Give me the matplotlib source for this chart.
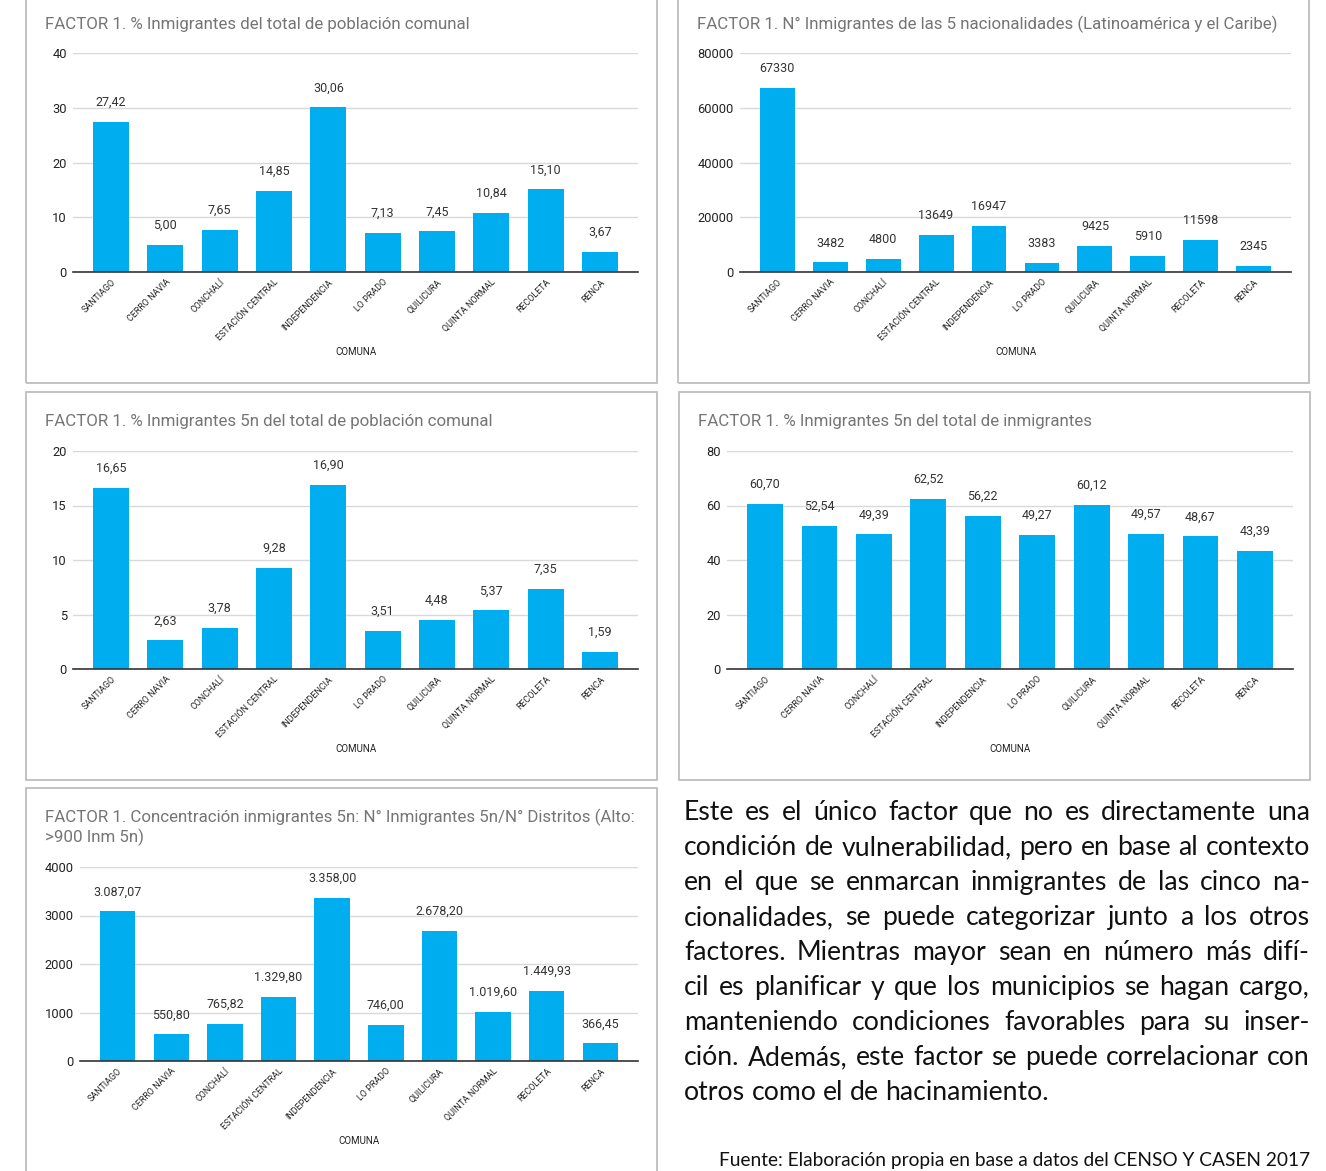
import numpy as np
import matplotlib.pyplot as plt
from matplotlib.patches import Rectangle

W, H = 1326, 1171
BLUE = '#00AEEF'

comunas = ['SANTIAGO', 'CERRO NAVIA', 'CONCHALÍ', 'ESTACIÓN CENTRAL', 'INDEPENDENCIA',
           'LO PRADO', 'QUILICURA', 'QUINTA NORMAL', 'RECOLETA', 'RENCA']

pct_inmigrantes = [27.42, 5.00, 7.65, 14.85, 30.06, 7.13, 7.45, 10.84, 15.10, 3.67]
n_inmigrantes_5n = [67330, 3482, 4800, 13649, 16947, 3383, 9425, 5910, 11598, 2345]
pct_5n_poblacion = [16.65, 2.63, 3.78, 9.28, 16.90, 3.51, 4.48, 5.37, 7.35, 1.59]
pct_5n_inmigrantes = [60.70, 52.54, 49.39, 62.52, 56.22, 49.27, 60.12, 49.57, 48.67, 43.39]
concentracion_5n = [3087.07, 550.80, 765.82, 1329.80, 3358.00, 746.00, 2678.20, 1019.60, 1449.93, 366.45]

texto = [
    "Este es el único factor que no es directamente una",
    "condición de vulnerabilidad, pero en base al contexto",
    "en el que se enmarcan inmigrantes de las cinco na-",
    "cionalidades, se puede categorizar junto a los otros",
    "factores. Mientras mayor sean en número más difí-",
    "cil es planificar y que los municipios se hagan cargo,",
    "manteniendo condiciones favorables para su inser-",
    "ción. Además, este factor se puede correlacionar con",
    "otros como el de hacinamiento.",
]
fuente = "Fuente: Elaboración propia en base a datos del CENSO Y CASEN 2017"

plt.rcParams['font.family'] = ['Roboto', 'DejaVu Sans']
TXT_FONT = ['Lato', 'DejaVu Sans']


def fx(x):
    return x / W


def fy(y):
    return 1 - y / H


def fmt_dec(v):
    return f"{v:.2f}".replace('.', ',')


def fmt_int(v):
    return f"{v:.0f}"


def fmt_miles(v):
    return f"{v:,.2f}".replace(',', 'X').replace('.', ',').replace('X', '.')


fig = plt.figure(figsize=(W / 100, H / 100), dpi=100)


def panel(box, axbox, title, values, ymax, ystep, fmt):
    # box / axbox: left, top, right, bottom in pixels
    bl, bt, br, bb = box
    fig.patches.append(Rectangle((fx(bl), fy(bb)), (br - bl) / W, (bb - bt) / H,
                                 transform=fig.transFigure, fill=False,
                                 edgecolor='#BDBDBD', lw=1.3))
    l, t, r, b = axbox
    ax = fig.add_axes([fx(l), fy(b), (r - l) / W, (b - t) / H])
    x = np.arange(len(values))
    ax.bar(x, values, width=0.66, color=BLUE, zorder=2)
    ax.set_xlim(-0.7, len(values) - 0.3)
    ax.set_ylim(0, ymax)
    ax.set_yticks(np.arange(0, ymax + ystep / 2, ystep))
    ax.yaxis.grid(True, color='#D9D9D9', lw=1)
    ax.set_axisbelow(True)
    for s in ['top', 'right', 'left']:
        ax.spines[s].set_visible(False)
    ax.spines['bottom'].set_color('#333333')
    ax.spines['bottom'].set_linewidth(1.2)
    ax.spines['bottom'].set_zorder(3)
    ax.tick_params(axis='both', length=0)
    ax.tick_params(axis='y', labelsize=9.3, labelcolor='#222222', pad=4.5)
    ax.set_xticks(x)
    ax.set_xticklabels(comunas, rotation=45, ha='right', rotation_mode='anchor',
                       fontsize=6.4, color='#222222')
    ax.tick_params(axis='x', pad=4)
    for i, v in enumerate(values):
        ax.annotate(fmt(v), (i, v), xytext=(0, 14), textcoords='offset points',
                    ha='center', va='center', fontsize=9, color='#333333')
    fig.text(fx((l + r) / 2), fy(b + 80), 'COMUNA', ha='center', va='center',
             fontsize=7, color='#222222')
    lines = title.split('\n')
    for k, ln in enumerate(lines):
        yt = (bt + 29 if bt > 0 else 24) + k * 20
        fig.text(fx(bl + 19), fy(yt), ln,
                 ha='left', va='center', fontsize=12.2, color='#757575')
    return ax


panel((26, -5, 657, 383), (73, 53, 638, 272),
      "FACTOR 1. % Inmigrantes del total de población comunal",
      pct_inmigrantes, 40, 10, fmt_dec)
panel((678, -5, 1309, 383), (740, 53, 1291, 272),
      "FACTOR 1. N° Inmigrantes de las 5 nacionalidades (Latinoamérica y el Caribe)",
      n_inmigrantes_5n, 80000, 20000, fmt_int)
panel((26, 392, 657, 780), (73, 451, 638, 669),
      "FACTOR 1. % Inmigrantes 5n del total de población comunal",
      pct_5n_poblacion, 20, 5, fmt_dec)
panel((679, 392, 1310, 780), (727, 451, 1293, 669),
      "FACTOR 1. % Inmigrantes 5n del total de inmigrantes",
      pct_5n_inmigrantes, 80, 20, fmt_dec)
panel((26, 788, 657, 1185), (80, 867, 638, 1061),
      "FACTOR 1. Concentración inmigrantes 5n: N° Inmigrantes 5n/N° Distritos (Alto:\n>900 Inm 5n)",
      concentracion_5n, 4000, 1000, fmt_miles)

# justified paragraph: pick the font size so the widest line fills the column
renderer = fig.canvas.get_renderer()
x0, x1 = 684, 1310
probe = [fig.text(0, 0, ln, fontsize=17, family=TXT_FONT) for ln in texto]
widest = max(p.get_window_extent(renderer).width for p in probe)
for p in probe:
    p.remove()
fs = 17 * (x1 - x0) / widest * 0.99

for k, ln in enumerate(texto):
    yb = fy(820 + k * 35)
    words = ln.split(' ')
    objs = [fig.text(0, yb, w, ha='left', va='baseline', fontsize=fs,
                     family=TXT_FONT, color='#111111') for w in words]
    widths = [o.get_window_extent(renderer).width for o in objs]
    if k < len(texto) - 1:
        gap = (x1 - x0 - sum(widths)) / (len(words) - 1)
    else:
        gap = fs * 100 / 72 * 0.24
    xp = x0
    for o, wdt in zip(objs, widths):
        o.set_x(fx(xp))
        xp += wdt + gap

fig.text(fx(1310), fy(1169), fuente, ha='right', va='bottom', fontsize=13.8,
         family=TXT_FONT, color='#111111')

fig.savefig('out.png', dpi=100)
